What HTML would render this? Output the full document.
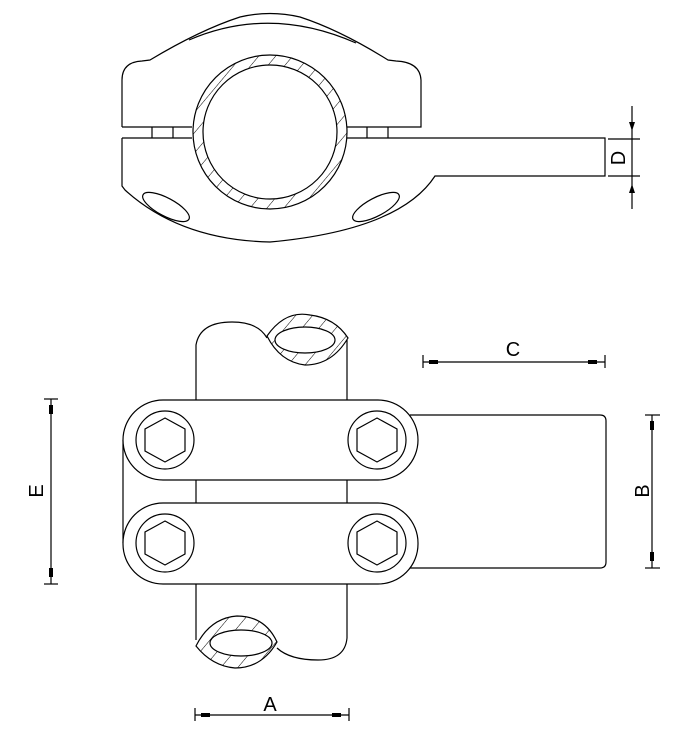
<!DOCTYPE html>
<html><head><meta charset="utf-8"><style>
html,body{margin:0;padding:0;background:#fff;}
svg{display:block;}
text{font-family:"Liberation Sans",sans-serif;font-size:20px;fill:#000;}
</style></head><body>
<svg width="687" height="752" viewBox="0 0 687 752" xmlns="http://www.w3.org/2000/svg">
<defs>
<pattern id="h" width="13" height="13" patternUnits="userSpaceOnUse" patternTransform="rotate(40)">
<line x1="0" y1="0" x2="0" y2="13" stroke="#000" stroke-width="1"/>
</pattern>
</defs>
<g fill="none" stroke="#000" stroke-width="1.2">
<path d="M122,127 L122,80 Q122,62 142,61 L150,60 Q200,30 240,17 Q270,10 300,17 Q340,30 388,60 L396,61 Q420,62 421,80 L421,127 L347,127"/>
<path d="M122,127 L192,127"/>
<path d="M189,40 Q270,5 356,43"/>
<path d="M122,138 L192,138"/>
<path d="M347,138 L605,138 L605,176 L435,176 Q400,230 270,242 Q180,240 125,190 L122,186 L122,138"/>
<line x1="152" y1="127" x2="152" y2="138"/><line x1="173" y1="127" x2="173" y2="138"/>
<line x1="367" y1="127" x2="367" y2="138"/><line x1="388" y1="127" x2="388" y2="138"/>
<ellipse cx="166" cy="207" rx="26" ry="9" transform="rotate(28 166 207)"/>
<ellipse cx="376" cy="207" rx="26" ry="9" transform="rotate(-28 376 207)"/>
<path d="M270,55 A77,77 0 1 1 269.9,55 Z M270,65 A67,67 0 1 0 270.1,65 Z" fill="url(#h)" fill-rule="evenodd" stroke="none"/>
<circle cx="270" cy="132" r="77" fill="none"/>
<circle cx="270" cy="132" r="67" fill="#fff"/>
<line x1="632" y1="106" x2="632" y2="209"/>
<line x1="608" y1="139" x2="640" y2="139"/>
<line x1="608" y1="176" x2="640" y2="176"/>
</g>
<g fill="#000">
<polygon points="629,122 635,122 632,131"/>
<polygon points="629,193 635,193 632,184"/>
</g>
<text x="0" y="0" transform="translate(625,158) rotate(-90)" text-anchor="middle">D</text>

<g fill="none" stroke="#000" stroke-width="1.2">
<path d="M196,400 L196,345 Q200,322 232,322 Q258,322 267,338"/>
<line x1="347" y1="340" x2="347" y2="400"/>
<line x1="196" y1="480" x2="196" y2="503"/><line x1="347" y1="480" x2="347" y2="503"/>
<path d="M196,584 L196,640"/>
<path d="M347,584 L347,638 Q345,660 318,660 Q290,660 277,648"/>
<path d="M267,336 Q285,310 310,315 Q335,318 348,338 Q332,365 305,365 Q280,362 267,336 Z" fill="url(#h)"/>
<ellipse cx="305" cy="340" rx="30" ry="13" fill="#fff"/>
<path d="M196,646 Q210,618 237,616 Q265,616 277,642 Q262,668 235,668 Q212,666 196,646 Z" fill="url(#h)"/>
<ellipse cx="241" cy="643" rx="31" ry="13" fill="#fff"/>
<path d="M410,415 L600,415 Q606,415 606,421 L606,562 Q606,568 600,568 L410,568"/>
<line x1="123" y1="440" x2="123" y2="543"/>
<rect x="123" y="400" width="295" height="80" rx="40" fill="#fff"/>
<rect x="123" y="503" width="295" height="81" rx="40" fill="#fff"/>
<circle cx="165" cy="440" r="29"/><circle cx="377" cy="440" r="29"/>
<circle cx="165" cy="543" r="29"/><circle cx="377" cy="543" r="29"/>
<polygon points="165,418 185,429 185,451 165,462 145,451 145,429"/>
<polygon points="377,418 397,429 397,451 377,462 357,451 357,429"/>
<polygon points="165,521 185,532 185,554 165,565 145,554 145,532"/>
<polygon points="377,521 397,532 397,554 377,565 357,554 357,532"/>
<line x1="423" y1="362" x2="605" y2="362"/>
<line x1="423" y1="355" x2="423" y2="368"/><line x1="605" y1="355" x2="605" y2="368"/>
<line x1="652" y1="415" x2="652" y2="568"/>
<line x1="645" y1="415" x2="660" y2="415"/><line x1="645" y1="568" x2="660" y2="568"/>
<line x1="51" y1="399" x2="51" y2="584"/>
<line x1="44" y1="399" x2="58" y2="399"/><line x1="44" y1="584" x2="58" y2="584"/>
<line x1="195" y1="715" x2="349" y2="715"/>
<line x1="195" y1="708" x2="195" y2="721"/><line x1="349" y1="708" x2="349" y2="721"/>
</g>
<g fill="#000">
<rect x="429" y="360" width="9" height="4"/><rect x="588" y="360" width="9" height="4"/>
<rect x="650" y="421" width="4" height="9"/><rect x="650" y="552" width="4" height="9"/>
<rect x="49" y="405" width="4" height="9"/><rect x="49" y="568" width="4" height="9"/>
<rect x="201" y="713" width="9" height="4"/><rect x="332" y="713" width="9" height="4"/>
</g>
<text x="513" y="356" text-anchor="middle">C</text>
<text transform="translate(649,491) rotate(-90)" text-anchor="middle">B</text>
<text transform="translate(43,491) rotate(-90)" text-anchor="middle">E</text>
<text x="270" y="711" text-anchor="middle">A</text>
</svg>
</body></html>
